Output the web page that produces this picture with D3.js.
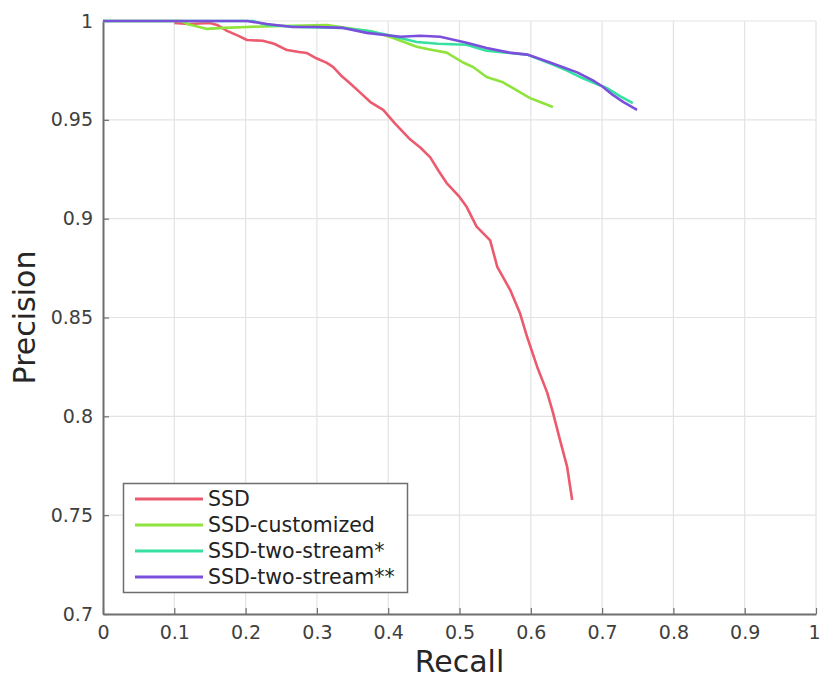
<!DOCTYPE html>
<html>
<head>
<meta charset="utf-8">
<script src="https://cdn.jsdelivr.net/npm/d3@7"></script>
<style>
  body { margin: 0; background: #fff; }
  text { font-family: "DejaVu Sans", sans-serif; }
</style>
</head>
<body>
<svg id="chart" width="821" height="680"></svg>
<script>
// series names and colours
const seriesNames = ["SSD", "SSD-customized", "SSD-two-stream*", "SSD-two-stream**"];
const seriesColors = ["#ec5a6e", "#8fe33c", "#35e0a0", "#7a4fdc"];

// SSD
const ssdRecall = [0.10, 0.12, 0.15, 0.16, 0.174, 0.19, 0.202, 0.224, 0.24, 0.258, 0.275, 0.286, 0.30, 0.314, 0.323, 0.335,
  0.346, 0.36, 0.375, 0.393, 0.41, 0.431, 0.445, 0.459, 0.471, 0.482, 0.50, 0.51, 0.524, 0.543, 0.553, 0.571, 0.585,
  0.595, 0.609, 0.623, 0.631, 0.641, 0.651, 0.658];
const ssdPrecision = [0.999, 0.9985, 0.999, 0.998, 0.995, 0.9925, 0.9904, 0.990, 0.9885, 0.9853, 0.9843, 0.9838, 0.981, 0.9788,
  0.9767, 0.972, 0.9686, 0.964, 0.959, 0.955, 0.948, 0.940, 0.936, 0.931, 0.924, 0.918, 0.911, 0.906, 0.896, 0.889,
  0.8756, 0.864, 0.852, 0.840, 0.825, 0.812, 0.802, 0.788, 0.7744, 0.7577];

// SSD-customized
const custRecall = [0, 0.11, 0.118, 0.146, 0.17, 0.202, 0.25, 0.314, 0.35, 0.38, 0.407, 0.44, 0.46, 0.482, 0.505, 0.519, 0.538,
  0.561, 0.575, 0.599, 0.613, 0.631];
const custPrecision = [1, 1, 0.9985, 0.996, 0.9965, 0.997, 0.9975, 0.998, 0.996, 0.9945, 0.9914, 0.987, 0.9855, 0.984, 0.979,
  0.9767, 0.9717, 0.969, 0.966, 0.961, 0.959, 0.9565];

// SSD-two-stream*
const ts1Recall = [0, 0.21, 0.23, 0.276, 0.337, 0.37, 0.398, 0.44, 0.47, 0.51, 0.538, 0.57, 0.595, 0.631, 0.65, 0.673, 0.69,
  0.707, 0.725, 0.743];
const ts1Precision = [1, 1, 0.998, 0.997, 0.9965, 0.995, 0.993, 0.9894, 0.9885, 0.988, 0.985, 0.9838, 0.983, 0.978, 0.975,
  0.971, 0.9685, 0.966, 0.962, 0.9585];

// SSD-two-stream**
const ts2Recall = [0, 0.202, 0.23, 0.266, 0.30, 0.337, 0.37, 0.417, 0.445, 0.473, 0.51, 0.538, 0.57, 0.595, 0.627, 0.665, 0.687,
  0.70, 0.715, 0.73, 0.749];
const ts2Precision = [1, 1, 0.9985, 0.997, 0.997, 0.9965, 0.994, 0.992, 0.9925, 0.992, 0.989, 0.9863, 0.984, 0.983, 0.979,
  0.974, 0.970, 0.967, 0.9626, 0.959, 0.955];

const xTicks = [0, 0.1, 0.2, 0.3, 0.4, 0.5, 0.6, 0.7, 0.8, 0.9, 1];
const yTicks = [0.7, 0.75, 0.8, 0.85, 0.9, 0.95, 1];

const seriesRecall = [ssdRecall, custRecall, ts1Recall, ts2Recall];
const seriesPrecision = [ssdPrecision, custPrecision, ts1Precision, ts2Precision];

const svg = d3.select("#chart");
const plotL = 103, plotR = 816, plotT = 21, plotB = 614;

const x = d3.scaleLinear().domain([0, 1]).range([plotL, plotR]);
const y = d3.scaleLinear().domain([0.7, 1]).range([plotB, plotT]);

// grid
const grid = svg.append("g");
grid.selectAll(".gx").data(xTicks.slice(1)).enter().append("line")
  .attr("x1", d => x(d)).attr("x2", d => x(d))
  .attr("y1", plotT).attr("y2", plotB)
  .attr("stroke", "#e3e3e3").attr("stroke-width", 1.2);
grid.selectAll(".gy").data(yTicks.slice(1)).enter().append("line")
  .attr("x1", plotL).attr("x2", plotR)
  .attr("y1", d => y(d)).attr("y2", d => y(d))
  .attr("stroke", "#e3e3e3").attr("stroke-width", 1.2);

// axes
const xAxis = d3.axisBottom(x).tickValues(xTicks).tickSizeInner(-6).tickSizeOuter(0).tickPadding(12)
  .tickFormat(d => d3.format("")(d));
const yAxis = d3.axisLeft(y).tickValues(yTicks).tickSizeInner(-6).tickSizeOuter(0).tickPadding(10)
  .tickFormat(d => d3.format("")(d));

const gx = svg.append("g").attr("transform", `translate(0,${plotB})`).call(xAxis);
const gy = svg.append("g").attr("transform", `translate(${plotL},0)`).call(yAxis);
[gx, gy].forEach(g => {
  g.select(".domain").attr("stroke", "#6e6e6e").attr("stroke-width", 2);
  g.selectAll(".tick line").attr("stroke", "#6e6e6e").attr("stroke-width", 1.2);
  g.selectAll(".tick text").attr("fill", "#404040").style("font-size", "19px")
    .style("font-family", "DejaVu Sans, sans-serif");
});
// keep the last x label inside the window
gx.selectAll(".tick text").filter(d => d === 1).attr("dx", "-2");

// lines
const line = d3.line().x(d => x(d[0])).y(d => y(d[1]));
seriesNames.forEach((name, i) => {
  const pts = seriesRecall[i].map((r, k) => [r, seriesPrecision[i][k]]);
  svg.append("path")
    .datum(pts)
    .attr("d", line)
    .attr("fill", "none")
    .attr("stroke", seriesColors[i])
    .attr("stroke-width", 2.6)
    .attr("stroke-linejoin", "round");
});

// axis labels
svg.append("text").attr("x", (plotL + plotR) / 2).attr("y", 672)
  .attr("text-anchor", "middle").attr("fill", "#262626").style("font-size", "30px").text("Recall");
svg.append("text").attr("transform", `translate(35,${(plotT + plotB) / 2}) rotate(-90)`)
  .attr("text-anchor", "middle").attr("fill", "#262626").style("font-size", "30px").text("Precision");

// legend
const lg = svg.append("g");
lg.append("rect").attr("x", 123.5).attr("y", 483.5).attr("width", 284).attr("height", 109)
  .attr("fill", "#fff").attr("stroke", "#6e6e6e").attr("stroke-width", 1.5);
seriesNames.forEach((name, i) => {
  const yy = 499 + i * 26;
  lg.append("line").attr("x1", 135).attr("x2", 203).attr("y1", yy).attr("y2", yy)
    .attr("stroke", seriesColors[i]).attr("stroke-width", 3);
  lg.append("text").attr("x", 208).attr("y", yy + 7).attr("fill", "#222")
    .style("font-size", "20.5px").text(name);
});
</script>
</body>
</html>
